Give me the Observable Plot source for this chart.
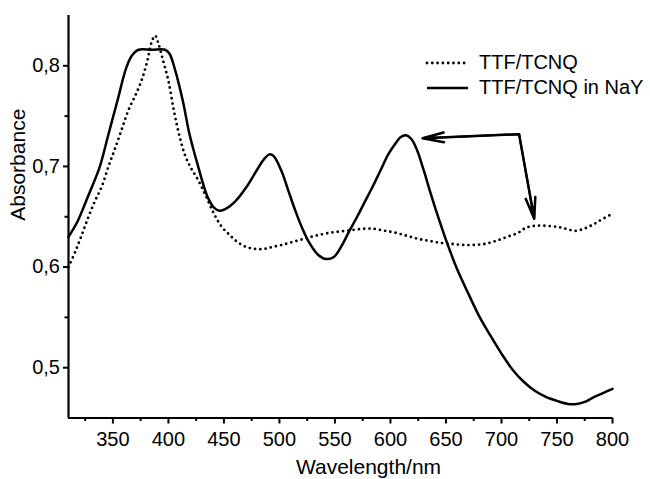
<!DOCTYPE html>
<html><head><meta charset="utf-8">
<script src="https://cdn.jsdelivr.net/npm/d3@7"></script>
<script src="https://cdn.jsdelivr.net/npm/@observablehq/plot@0.6"></script>
<style>
html,body{margin:0;padding:0;background:#fff;}
#wrap{position:relative;width:650px;height:479px;font-family:"Liberation Sans",Arial,sans-serif;color:#000;}
#legend{position:absolute;left:425px;top:50px;font-size:20px;color:#000;}
.row{display:flex;align-items:center;height:25px;white-space:nowrap;}
.row svg{margin-right:10px;}
</style></head><body>
<div id="wrap"><div id="chart"></div><div id="legend"></div></div>
<script>
// ---- data ----
const seriesNames = ["TTF/TCNQ", "TTF/TCNQ in NaY"];

const dotNm  = [310,316,322,328,334,340,346,352,358,364,370,376,381,385,388,391,395,400,405,410,415,420,427,434,441,448,455,462,470,478,486,494,502,512,522,532,545,560,575,585,595,605,615,625,635,645,655,665,675,685,695,705,715,722,730,740,750,758,766,774,782,790,800];
const dotAbs = [0.600,0.615,0.632,0.650,0.666,0.680,0.700,0.718,0.737,0.756,0.770,0.786,0.805,0.824,0.830,0.822,0.806,0.785,0.755,0.730,0.711,0.699,0.686,0.670,0.653,0.640,0.632,0.625,0.620,0.618,0.618,0.620,0.622,0.625,0.628,0.631,0.634,0.636,0.638,0.638,0.636,0.634,0.631,0.628,0.626,0.624,0.623,0.622,0.622,0.623,0.626,0.630,0.634,0.639,0.641,0.641,0.640,0.638,0.636,0.638,0.642,0.647,0.653];

const solidNm  = [310,318,326,332,338,346,354,362,367,373,385,397,401,406,413,419,427,432,436,441,446,452,460,470,480,486,491,495,502,508,514,520,527,535,542,549,556,563,570,577,584,591,598,604,609,614,619,624,630,636,642,650,660,670,680,690,700,710,720,730,740,750,760,768,775,782,790,800];
const solidAbs = [0.630,0.645,0.666,0.682,0.699,0.732,0.765,0.798,0.810,0.816,0.816,0.816,0.812,0.796,0.765,0.732,0.699,0.680,0.668,0.659,0.656,0.658,0.665,0.679,0.697,0.707,0.712,0.710,0.695,0.676,0.657,0.640,0.624,0.612,0.608,0.610,0.621,0.636,0.650,0.665,0.680,0.696,0.712,0.722,0.729,0.731,0.727,0.716,0.696,0.674,0.653,0.627,0.598,0.574,0.551,0.532,0.514,0.498,0.486,0.477,0.471,0.467,0.464,0.464,0.466,0.470,0.474,0.479];

const arrowFromNm  = [716, 716];
const arrowFromAbs = [0.732, 0.731];
const arrowToNm    = [629, 729.5];
const arrowToAbs   = [0.728, 0.648];

const xDomain = [310, 800];
const yDomain = [0.45, 0.85];
const xMajor = [350,400,450,500,550,600,650,700,750,800];
const xMinor = [325,375,425,475,525,575,625,675,725,775];
const yMajor = [0.5,0.6,0.7,0.8];
const yMinor = [0.55,0.65,0.75];
const xLabel = "Wavelength/nm";
const yLabel = "Absorbance";

// ---- build tables ----
const dotted = dotNm.map((x,i)=>({x, y: dotAbs[i]}));
const solid = solidNm.map((x,i)=>({x, y: solidAbs[i]}));
const arrows = arrowFromNm.map((x1,i)=>({x1, y1: arrowFromAbs[i], x2: arrowToNm[i], y2: arrowToAbs[i]}));

const font = "Liberation Sans, Arial, sans-serif";

const chart = Plot.plot({
  width: 650, height: 479,
  marginLeft: 68, marginRight: 38, marginTop: 15, marginBottom: 61.5,
  style: {fontFamily: font, color: "#000", background: "#fff", overflow: "visible"},
  x: {domain: xDomain},
  y: {domain: yDomain},
  marks: [
    Plot.axisX({ticks: xMinor, tickSize: 3.5, strokeWidth: 2, tickFormat: () => "", label: null}),
    Plot.axisX({ticks: xMajor, tickSize: 6, tickPadding: 8, strokeWidth: 2, fontSize: 20, tickFormat: d => String(d), label: null}),
    Plot.axisY({ticks: yMinor, tickSize: 3.5, strokeWidth: 2, tickFormat: () => "", label: null}),
    Plot.axisY({ticks: yMajor, tickSize: 5, tickPadding: 3.5, strokeWidth: 2, fontSize: 20, tickFormat: d => d.toFixed(1).replace(".", ","), label: null}),
    Plot.ruleX([xDomain[0]], {stroke: "#000", strokeWidth: 2.2}),
    Plot.ruleY([yDomain[0]], {stroke: "#000", strokeWidth: 2.2}),
    Plot.line(dotted, {x: "x", y: "y", curve: "catmull-rom", stroke: "#000", strokeWidth: 2.8, strokeDasharray: "0 5.3", strokeLinecap: "round"}),
    Plot.line(solid, {x: "x", y: "y", curve: "catmull-rom", stroke: "#000", strokeWidth: 2.5}),
    Plot.arrow(arrows, {x1: "x1", y1: "y1", x2: "x2", y2: "y2", stroke: "#000", strokeWidth: 2.5, headLength: 13, headAngle: 26}),
    Plot.arrow(arrows, {x1: "x1", y1: "y1", x2: "x2", y2: "y2", stroke: "#000", strokeWidth: 2, headLength: 9, headAngle: 18}),
    Plot.text([xLabel], {frameAnchor: "bottom", text: d => d, dx: 28, dy: 49, fontSize: 21, lineAnchor: "middle", fill: "#000"}),
    Plot.text([yLabel], {frameAnchor: "left", text: d => d, dx: -50, dy: 4, rotate: -90, fontSize: 21, lineAnchor: "middle", fill: "#000"})
  ]
});
document.getElementById("chart").appendChild(chart);

// ---- legend ----
const legend = document.getElementById("legend");
seriesNames.forEach((name, i) => {
  const row = document.createElement("div");
  row.className = "row";
  const dash = i === 0 ? 'stroke-dasharray="0 5.3" stroke-linecap="round" stroke-width="2.8"' : 'stroke-width="2.5"';
  row.innerHTML = `<svg width="44" height="10"><line x1="2" y1="5" x2="43" y2="5" stroke="#000" ${dash}/></svg><span>${name}</span>`;
  legend.appendChild(row);
});
</script></body></html>
